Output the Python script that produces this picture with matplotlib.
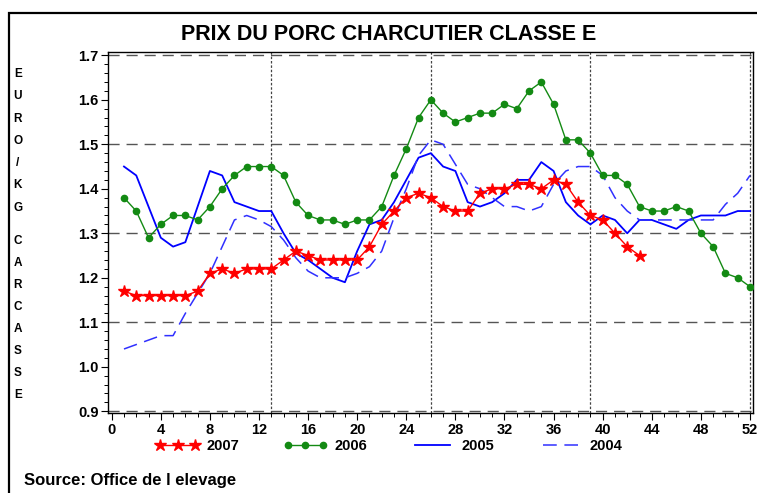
import matplotlib
matplotlib.use('Agg')
import matplotlib.pyplot as plt
from matplotlib.patches import Rectangle
import numpy as np

plt.rcParams['font.family'] = ['Liberation Sans', 'DejaVu Sans']
plt.rcParams['font.weight'] = 'bold'

# weekly prices, euro / kg carcass
weeks = list(range(1, 53))
p2007 = [1.17, 1.16, 1.16, 1.16, 1.16, 1.16, 1.17, 1.21, 1.22, 1.21,
         1.22, 1.22, 1.22, 1.24, 1.26, 1.25, 1.24, 1.24, 1.24, 1.24,
         1.27, 1.32, 1.35, 1.38, 1.39, 1.38, 1.36, 1.35, 1.35, 1.39,
         1.40, 1.40, 1.41, 1.41, 1.40, 1.42, 1.41, 1.37, 1.34, 1.33,
         1.30, 1.27, 1.25]
p2006 = [1.38, 1.35, 1.29, 1.32, 1.34, 1.34, 1.33, 1.36, 1.40, 1.43,
         1.45, 1.45, 1.45, 1.43, 1.37, 1.34, 1.33, 1.33, 1.32, 1.33,
         1.33, 1.36, 1.43, 1.49, 1.56, 1.60, 1.57, 1.55, 1.56, 1.57,
         1.57, 1.59, 1.58, 1.62, 1.64, 1.59, 1.51, 1.51, 1.48, 1.43,
         1.43, 1.41, 1.36, 1.35, 1.35, 1.36, 1.35, 1.30, 1.27, 1.21,
         1.20, 1.18]
p2005 = [1.45, 1.43, 1.36, 1.29, 1.27, 1.28, 1.36, 1.44, 1.43, 1.37,
         1.36, 1.35, 1.35, 1.30, 1.255, 1.24, 1.22, 1.20, 1.19, 1.26,
         1.32, 1.33, 1.37, 1.42, 1.47, 1.48, 1.45, 1.44, 1.37, 1.36,
         1.37, 1.39, 1.42, 1.42, 1.46, 1.44, 1.37, 1.34, 1.32, 1.34,
         1.33, 1.30, 1.33, 1.33, 1.32, 1.31, 1.33, 1.34, 1.34, 1.34,
         1.35, 1.35]
p2004 = [1.04, 1.05, 1.06, 1.07, 1.07, 1.12, 1.165, 1.21, 1.27, 1.33,
         1.34, 1.33, 1.315, 1.285, 1.245, 1.215, 1.20, 1.20, 1.20, 1.21,
         1.225, 1.26, 1.335, 1.40, 1.475, 1.51, 1.50, 1.455, 1.41, 1.40,
         1.38, 1.36, 1.36, 1.35, 1.36, 1.41, 1.44, 1.45, 1.45, 1.43,
         1.38, 1.35, 1.33, 1.33, 1.33, 1.33, 1.33, 1.33, 1.33, 1.365,
         1.39, 1.43]

fig = plt.figure(figsize=(7.57, 4.93), dpi=100)
ax = fig.add_axes([108.3/757, 1-413.3/493, (753.3-108.3)/757, (413.3-52.3)/493])

# outer frame (cut by image edge on right and bottom)
fig.patches.append(Rectangle((9/757, -0.1), 1.2, 1.1 - 13/493,
                             transform=fig.transFigure, fill=False,
                             edgecolor='black', linewidth=1.6))

for y in [0.9, 1.1, 1.3, 1.5, 1.7]:
    ax.axhline(y, color='#555555', lw=1.0, dashes=(8, 5), zorder=1)
for x in [13, 26, 39, 52]:
    ax.axvline(x, color='#444444', lw=0.9, dashes=(2, 1.5), zorder=1)

ax.plot(weeks[:len(p2007)], p2007, color='red', lw=1.0, marker='*',
        markersize=9, label='2007', zorder=5)
ax.plot(weeks, p2006, color='#138a13', lw=1.0, marker='o',
        markersize=4.5, label='2006', zorder=4)
ax.plot(weeks, p2005, color='#0000ff', lw=1.3, label='2005', zorder=3)
ax.plot(weeks, p2004, color='#3030ff', lw=1.1, dashes=(9, 5),
        label='2004', zorder=3)

ax.set_xlim(-0.277, 52.27)
ax.set_ylim(0.8955, 1.7067)
ax.set_xticks(range(0, 53, 4))
ax.set_xticks(range(0, 53), minor=True)
ax.set_yticks(np.arange(0.9, 1.71, 0.1))
ax.set_yticks(np.arange(0.9, 1.71, 0.02), minor=True)
ax.set_yticklabels(['%.1f' % v for v in np.arange(0.9, 1.71, 0.1)])
ax.tick_params(axis='both', which='major', length=5, width=0.8,
               labelsize=10.5, pad=2)
ax.tick_params(axis='both', which='minor', length=3, width=0.7)
for lab in ax.get_xticklabels() + ax.get_yticklabels():
    lab.set_fontweight('bold')
for sp in ax.spines.values():
    sp.set_linewidth(1.0)

fig.text(389/757, 1-35/493, 'PRIX DU PORC CHARCUTIER CLASSE E',
         ha='center', va='center', fontsize=15.5, fontweight='bold')

ylab = 'EURO/KG'
for i, ch in enumerate(ylab):
    fig.text(18/757, 1-(74 + i*22.3)/493, ch, ha='center', va='center',
             fontsize=8.5, fontweight='bold')
ylab2 = 'CARCASSE'
for i, ch in enumerate(ylab2):
    fig.text(18/757, 1-(240.7 + i*22.1)/493, ch, ha='center', va='center',
             fontsize=8.5, fontweight='bold')

fig.legend(loc='center', bbox_to_anchor=(389/757, 1-446/493), ncol=4,
           frameon=False, numpoints=3, handlelength=3.0, handletextpad=0.5,
           columnspacing=3.0, prop={'weight': 'bold', 'size': 10.5})

fig.text(24/757, 1-481/493, 'Source: Office de l elevage',
         ha='left', va='center', fontsize=12, fontweight='bold')

fig.savefig('out.png', dpi=100)
